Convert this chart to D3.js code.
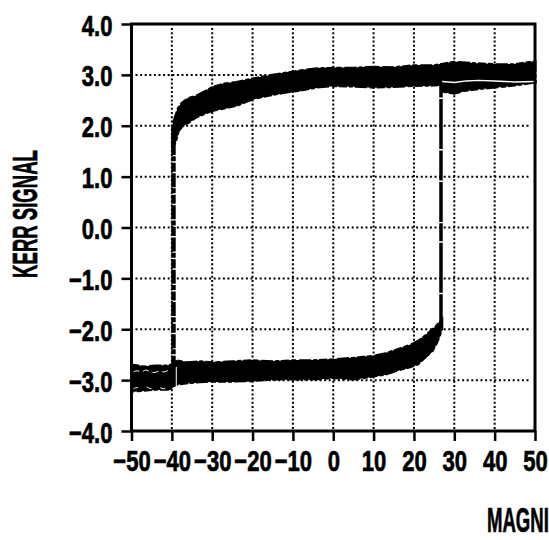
<!DOCTYPE html>
<html>
<head>
<meta charset="utf-8">
<script src="https://cdn.jsdelivr.net/npm/d3@7"></script>
<style>
	body { margin: 0; background: white; }
	svg { display: block; }
	text { font-family: "Liberation Sans", Arial, sans-serif; font-weight: bold; fill: black; }
</style>
</head>
<body>
<div id="chart"></div>
<script>

var width = 549;
var height = 540;

// axes
var xTicks = [-50, -40, -30, -20, -10, 0, 10, 20, 30, 40, 50];
var xTickLabels = ["\u221250", "\u221240", "\u221230", "\u221220", "\u221210", "0", "10", "20", "30", "40", "50"];
var yTicks = [-4, -3, -2, -1, 0, 1, 2, 3, 4];
var yTickLabels = ["\u22124.0", "\u22123.0", "\u22122.0", "\u22121.0", "0.0", "1.0", "2.0", "3.0", "4.0"];

// upper branch (band edges)
var upperField  = [-39.8, -39.6, -39, -38.4, -37.5, -36, -34, -32, -30, -27, -24, -20, -16, -12, -8, -4, 0, 5, 10, 15, 20, 25, 30, 35, 40, 45, 50];
var upperTop    = [1.7, 2.05, 2.2, 2.34, 2.44, 2.53, 2.58, 2.66, 2.75, 2.82, 2.85, 2.92, 2.98, 3.03, 3.08, 3.12, 3.13, 3.13, 3.15, 3.14, 3.18, 3.18, 3.25, 3.22, 3.2, 3.2, 3.26];
var upperBottom = [1.55, 1.6, 1.72, 1.9, 1.99, 2.06, 2.17, 2.24, 2.3, 2.35, 2.4, 2.53, 2.6, 2.66, 2.7, 2.76, 2.79, 2.78, 2.76, 2.77, 2.79, 2.8, 2.84, 2.86, 2.86, 2.86, 2.86];

// lower branch
var lowerField  = [-50, -47, -44, -41, -40, -39, -36, -33, -30, -25, -20, -15, -10, -5, 0, 5, 10, 13, 16, 19, 21, 23, 24.5, 25.5, 26.3, 26.9];
var lowerTop    = [-2.7, -2.74, -2.72, -2.72, -2.7, -2.62, -2.66, -2.64, -2.66, -2.64, -2.62, -2.64, -2.62, -2.62, -2.6, -2.57, -2.53, -2.48, -2.4, -2.32, -2.24, -2.12, -2.02, -1.95, -1.87, -1.82];
var lowerBottom = [-3.22, -3.2, -3.18, -3.18, -3.15, -3.08, -3.05, -3.03, -3.02, -3.02, -3.01, -2.98, -2.98, -2.98, -2.95, -2.98, -2.92, -2.88, -2.8, -2.74, -2.68, -2.53, -2.43, -2.28, -2.13, -1.98];

// part of the upper band after the switch at +26.7
var tailField  = [26.7, 27, 30, 33, 36, 40, 45, 50];
var tailBottom = [2.9, 2.68, 2.64, 2.7, 2.73, 2.76, 2.8, 2.86];
var tailWhite  = [2.88, 2.87, 2.85, 2.88, 2.89, 2.88, 2.86, 2.87];

// white gaps in the left part of the lower band
var gapField = [-49.5, -48.5, -47.5, -46.5, -45.5, -44, -43, -42, -41, -40.2];
var gapValue = [-2.84, -2.8, -2.86, -2.78, -2.84, -2.86, -2.8, -2.86, -2.8, -2.82];

// switching jumps
var jumpField = [-39.6, 26.7];
var jumpLow   = [-2.7, -1.9];
var jumpHigh  = [2.0, 2.85];

var svg = d3.select("#chart")
		.append("svg")
		.attr("width", width)
		.attr("height", height);

var xScale = d3.scaleLinear()
		.domain([-50, 50])
		.range([131.5, 535]);

var yScale = d3.scaleLinear()
		.domain([-4, 4])
		.range([431, 24]);

// grid
svg.append("g").selectAll("line")
	.data(xTicks.slice(1, -1))
	.enter()
	.append("line")
	.attr("x1", function(d) { return xScale(d); })
	.attr("x2", function(d) { return xScale(d); })
	.attr("y1", yScale(4) + 4)
	.attr("y2", yScale(-4) - 2)
	.attr("stroke", "black")
	.attr("stroke-width", 2)
	.attr("stroke-dasharray", "2,2.2");

svg.append("g").selectAll("line")
	.data(yTicks.slice(1, -1))
	.enter()
	.append("line")
	.attr("x1", xScale(-50) + 4)
	.attr("x2", xScale(50) - 6)
	.attr("y1", function(d) { return yScale(d); })
	.attr("y2", function(d) { return yScale(d); })
	.attr("stroke", "black")
	.attr("stroke-width", 2)
	.attr("stroke-dasharray", "2,2.6");

// bands
var upperArea = d3.area()
		.x(function(d, i) { return xScale(upperField[i]); })
		.y0(function(d, i) { return yScale(upperBottom[i]); })
		.y1(function(d, i) { return yScale(upperTop[i]); });

var lowerArea = d3.area()
		.x(function(d, i) { return xScale(lowerField[i]); })
		.y0(function(d, i) { return yScale(lowerBottom[i]); })
		.y1(function(d, i) { return yScale(lowerTop[i]); });

var tailArea = d3.area()
		.x(function(d, i) { return xScale(tailField[i]); })
		.y0(function(d, i) { return yScale(tailBottom[i]); })
		.y1(function(d, i) { return yScale(tailWhite[i]); });

var bands = [upperArea(upperField), lowerArea(lowerField), tailArea(tailField)];

svg.append("g").selectAll("path")
	.data(bands)
	.enter()
	.append("path")
	.attr("d", function(d) { return d; })
	.attr("fill", "black")
	.attr("stroke", "black")
	.attr("stroke-width", 1.5)
	.attr("stroke-linejoin", "round");

// ragged edge of the noisy trace
svg.append("g").selectAll("path")
	.data(bands)
	.enter()
	.append("path")
	.attr("d", function(d) { return d; })
	.attr("fill", "none")
	.attr("stroke", "black")
	.attr("stroke-width", 3)
	.attr("stroke-dasharray", "8,2,5,3,12,2,4,2");

// jumps
svg.append("g").selectAll("line")
	.data(jumpField)
	.enter()
	.append("line")
	.attr("x1", function(d) { return xScale(d); })
	.attr("x2", function(d) { return xScale(d); })
	.attr("y1", function(d, i) { return yScale(jumpLow[i]); })
	.attr("y2", function(d, i) { return yScale(jumpHigh[i]); })
	.attr("stroke", "black")
	.attr("stroke-width", function(d, i) { return i == 0 ? 4.5 : 3.5; })
	.attr("stroke-dasharray", function(d, i) { return i == 0 ? "9,1.5,5,1.2,14,1.5" : "30,1.5,50,1.5,18,1.2,40,1.5"; });

// white traces inside the bands
svg.append("path")
	.attr("d", d3.line()
		.x(function(d, i) { return xScale(tailField[i + 1]); })
		.y(function(d) { return yScale(d); })(tailWhite.slice(1)))
	.attr("fill", "none")
	.attr("stroke", "white")
	.attr("stroke-width", 1.3);

svg.append("path")
	.attr("d", d3.line()
		.x(function(d, i) { return xScale(gapField[i]); })
		.y(function(d) { return yScale(d); })
		.curve(d3.curveBasis)(gapValue))
	.attr("fill", "none")
	.attr("stroke", "white")
	.attr("stroke-width", 1)
	.attr("stroke-dasharray", "6,4");

svg.append("path")
	.attr("d", d3.line()
		.x(function(d, i) { return xScale(gapField[i]); })
		.y(function(d) { return yScale(d - 0.33); })
		.curve(d3.curveBasis)(gapValue))
	.attr("fill", "none")
	.attr("stroke", "white")
	.attr("stroke-width", 1)
	.attr("stroke-dasharray", "5,9");

svg.append("line")
	.attr("x1", xScale(-38.9))
	.attr("x2", xScale(-38.9))
	.attr("y1", yScale(-2.74))
	.attr("y2", yScale(-3.16))
	.attr("stroke", "white")
	.attr("stroke-width", 1);

// frame
svg.append("rect")
	.attr("x", xScale(-50))
	.attr("y", yScale(4))
	.attr("width", xScale(50) - xScale(-50))
	.attr("height", yScale(-4) - yScale(4))
	.attr("fill", "none")
	.attr("stroke", "black")
	.attr("stroke-width", 3);

// axes
var yAxis = d3.axisLeft(yScale)
		.tickValues(yTicks)
		.tickSize(10)
		.tickSizeOuter(0)
		.tickFormat(function(d, i) { return yTickLabels[i]; });

var xAxis = d3.axisBottom(xScale)
		.tickValues(xTicks)
		.tickSize(10)
		.tickSizeOuter(0)
		.tickFormat(function(d, i) { return xTickLabels[i]; });

var yAxisHandle = svg.append("g")
		.attr("transform", "translate(" + xScale(-50) + ",0)")
		.call(yAxis);

var xAxisHandle = svg.append("g")
		.attr("transform", "translate(0," + yScale(-4) + ")")
		.call(xAxis);

[yAxisHandle, xAxisHandle].forEach(function(h) {
	h.select(".domain").remove();
	h.selectAll(".tick line")
		.attr("stroke", "black")
		.attr("stroke-width", 2.5);
	h.selectAll(".tick text")
		.attr("x", 0)
		.attr("y", 0)
		.attr("dy", null)
		.style("font-family", "'Liberation Sans', Arial, sans-serif")
		.style("font-weight", "bold")
		.attr("font-size", 29)
		.attr("stroke", "black")
		.attr("stroke-width", 0.7);
});

yAxisHandle.selectAll(".tick text")
	.attr("text-anchor", "end")
	.attr("transform", "translate(-19,11) scale(0.76,1)");

xAxisHandle.selectAll(".tick text")
	.attr("text-anchor", "middle")
	.attr("transform", "translate(0,40) scale(0.76,1)");

// titles
svg.append("text")
	.attr("transform", "translate(36.5,214) rotate(-90) scale(0.53,1)")
	.attr("text-anchor", "middle")
	.attr("font-size", 35)
	.attr("stroke", "black")
	.attr("stroke-width", 0.7)
	.text("KERR SIGNAL");

svg.append("text")
	.attr("transform", "translate(487,532) scale(0.53,1)")
	.attr("text-anchor", "start")
	.attr("font-size", 35)
	.attr("stroke", "black")
	.attr("stroke-width", 0.7)
	.text("MAGNI");

</script>
</body>
</html>
